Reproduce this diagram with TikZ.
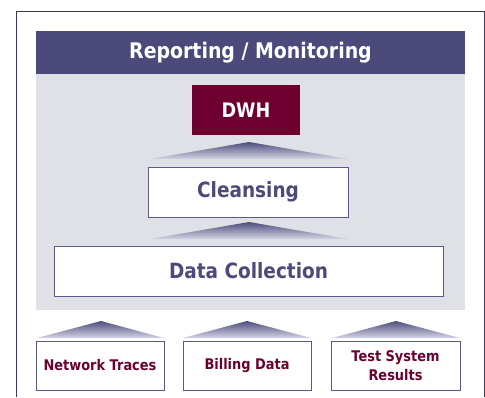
\documentclass[tikz,border=0pt]{standalone}
\usepackage{fontspec}
\setmainfont{DejaVu Sans}[FakeStretch=0.88]
\definecolor{hdr}{HTML}{4B4A7B}
\definecolor{wine}{HTML}{6E0030}
\definecolor{panel}{HTML}{E0E1E7}
\definecolor{framec}{HTML}{3A3660}
\definecolor{boxline}{HTML}{5A5A8A}
\definecolor{arrtop}{HTML}{4E4D7E}
\definecolor{arrbot}{HTML}{D4D5E4}
\begin{document}
\begin{tikzpicture}[x=1pt,y=-1pt,
  box/.style={draw=boxline, line width=0.9pt, fill=white, inner sep=0pt, align=center, font=\bfseries\fontsize{21}{23}\selectfont, text=hdr},
  srcbox/.style={box, font=\bfseries\fontsize{14.7}{19}\selectfont, text=wine},
  roof/.style={top color=arrtop, bottom color=arrbot, draw=none}]
\useasboundingbox (0,0) rectangle (485,397);
\fill[white] (0,0) rectangle (485,397);
\draw[framec, line width=1pt] (16.5,397) -- (16.5,11.5) -- (484,11.5) -- (484,397);
% panel and header
\node[fill=panel, inner sep=0pt, minimum width=429pt, minimum height=236pt] (panel) at (250.5,192) {};
\node[fill=hdr, inner sep=0pt, minimum width=429pt, minimum height=43pt, text=white, font=\bfseries\fontsize{21.5}{23}\selectfont] (rep) at (250.5,52.5) {Reporting / Monitoring};
% boxes
\node[fill=wine, inner sep=0pt, minimum width=108pt, minimum height=50pt, text=white, font=\bfseries\fontsize{20}{22}\selectfont] (dwh) at (246,110) {DWH};
\node[box, minimum width=200pt, minimum height=50pt] (clean) at (248,192) {Cleansing};
\node[box, minimum width=389pt, minimum height=50pt] (coll) at (248.5,271) {Data Collection};
\node[srcbox, minimum width=128pt, minimum height=49pt] (net) at (100,365.5) {Network Traces};
\node[srcbox, minimum width=128pt, minimum height=49pt] (bill) at (247,365.5) {Billing Data};
\node[srcbox, minimum width=129pt, minimum height=49pt] (test) at (395.5,365.5) {Test System\\Results};
% roofs (upward arrows)
\shade[roof] (150,159) -- (249,142) -- (348,159) -- cycle;
\shade[roof] (150,239) -- (249,222) -- (348,239) -- cycle;
\shade[roof] (37,338) -- (101,321) -- (164,338) -- cycle;
\shade[roof] (183,338) -- (247,321) -- (311,338) -- cycle;
\shade[roof] (332,338) -- (396,321) -- (460,338) -- cycle;
\end{tikzpicture}
\end{document}
